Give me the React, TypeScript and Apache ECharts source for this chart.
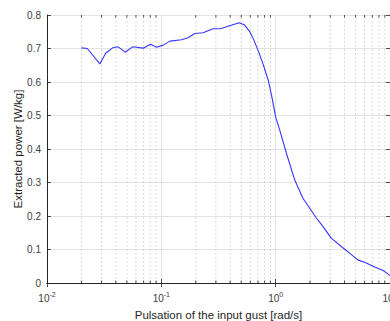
import React, { useEffect, useRef } from "react";
import * as echarts from "echarts";

// Pulsation of the input gust [rad/s]
const freq = [
  0.02, 0.0225, 0.029, 0.0326, 0.0375, 0.042, 0.0483, 0.056, 0.0694, 0.0805,
  0.0908, 0.104, 0.119, 0.15, 0.171, 0.196, 0.232, 0.283, 0.329, 0.396, 0.48,
  0.53, 0.59, 0.645, 0.71, 0.78, 0.86, 0.92, 1.0, 1.084, 1.24, 1.466, 1.73,
  1.98, 2.27, 2.59, 3.06, 3.75, 4.43, 5.23, 6.2, 7.33, 8.65, 9.77, 10,
];
// Extracted power [W/kg]
const power = [
  0.702, 0.7, 0.654, 0.686, 0.702, 0.705, 0.689, 0.705, 0.701, 0.713, 0.704,
  0.71, 0.722, 0.726, 0.732, 0.745, 0.747, 0.759, 0.759, 0.768, 0.777, 0.771,
  0.752, 0.725, 0.69, 0.651, 0.606, 0.561, 0.495, 0.457, 0.388, 0.308, 0.253,
  0.224, 0.194, 0.169, 0.134, 0.109, 0.089, 0.069, 0.06, 0.048, 0.038, 0.025,
  0.022,
];
const minorTicks = [
  0.02, 0.03, 0.04, 0.05, 0.06, 0.07, 0.08, 0.09,
  0.2, 0.3, 0.4, 0.5, 0.6, 0.7, 0.8, 0.9,
  2, 3, 4, 5, 6, 7, 8, 9,
];
const xMin = 0.01;
const xMax = 10;
const yMin = 0;
const yMax = 0.8;
const yStep = 0.1;

const AX = "#262626";
const FONT = "Liberation Sans, Arial, sans-serif";

export default function App() {
  const ref = useRef<HTMLDivElement>(null);
  useEffect(() => {
    if (!ref.current) return;
    const chart = echarts.init(ref.current, null, { renderer: "svg" });
    const xLabel = (v: number) => {
      const e = Math.round(Math.log10(v));
      return `{b|10}{e|${e}}`;
    };
    const baseX = {
      type: "log" as const,
      logBase: 10,
      min: xMin,
      max: xMax,
      axisLine: { show: true, lineStyle: { color: AX, width: 1 } },
      axisTick: { show: true, inside: true, length: 4, lineStyle: { color: AX, width: 0.8 } },
      minorTick: { show: false },
    };
    const baseY = {
      type: "value" as const,
      min: yMin,
      max: yMax,
      interval: yStep,
      axisLine: { show: true, lineStyle: { color: AX, width: 1 } },
      axisTick: { show: true, inside: true, length: 4, lineStyle: { color: AX, width: 0.8 } },
    };
    chart.setOption({
      animation: false,
      backgroundColor: "#ffffff",
      grid: {
        left: 47,
        right: 0,
        top: 15,
        bottom: 38,
        containLabel: false,
        outerBoundsMode: "none",
      },
      xAxis: [
        {
          ...baseX,
          position: "bottom",
          name: "Pulsation of the input gust [rad/s]",
          nameLocation: "middle",
          nameGap: 26,
          nameMoveOverlap: false,
          nameTextStyle: { color: AX, fontSize: 11.5, fontFamily: FONT },
          splitLine: { show: true, lineStyle: { color: "#e3e3e3", width: 1 } },
          axisLabel: {
            show: true,
            margin: 8,
            formatter: xLabel,
            rich: {
              b: { fontSize: 10, color: "#404040", fontFamily: FONT },
              e: { fontSize: 7, color: "#404040", fontFamily: FONT, padding: [0, 0, 7, 0] },
            },
          },
        },
        {
          ...baseX,
          position: "top",
          axisLabel: { show: false },
          splitLine: { show: false },
        },
      ],
      yAxis: [
        {
          ...baseY,
          position: "left",
          name: "Extracted power [W/kg]",
          nameLocation: "middle",
          nameGap: 23,
          nameMoveOverlap: false,
          nameTextStyle: { color: AX, fontSize: 11.5, fontFamily: FONT },
          splitLine: { show: true, lineStyle: { color: "#e3e3e3", width: 1 } },
          axisLabel: {
            show: true,
            margin: 6,
            color: "#404040",
            fontSize: 10,
            fontFamily: FONT,
            formatter: (v: number) => (v === 0 ? "0" : v.toFixed(1)),
          },
        },
        {
          ...baseY,
          position: "right",
          axisLabel: { show: false },
          splitLine: { show: false },
        },
      ],
      series: [
        {
          type: "custom",
          xAxisIndex: 0,
          yAxisIndex: 0,
          z: 1,
          silent: true,
          data: minorTicks.map((v) => [v, yMin]),
          encode: { x: 0, y: 1 },
          renderItem: (params: any, api: any) => {
            const v = api.value(0);
            const bot = api.coord([v, yMin]);
            const top = api.coord([v, yMax]);
            return {
              type: "group",
              children: [
                {
                  type: "line",
                  shape: { x1: bot[0], y1: bot[1], x2: top[0], y2: top[1] },
                  style: { stroke: "#cfcfcf", lineWidth: 0.8, lineDash: [2, 2] },
                },
                {
                  type: "line",
                  shape: { x1: bot[0], y1: bot[1], x2: bot[0], y2: bot[1] - 2.5 },
                  style: { stroke: AX, lineWidth: 0.8 },
                },
                {
                  type: "line",
                  shape: { x1: top[0], y1: top[1], x2: top[0], y2: top[1] + 2.5 },
                  style: { stroke: AX, lineWidth: 0.8 },
                },
              ],
            };
          },
        },
        {
          type: "line",
          xAxisIndex: 0,
          yAxisIndex: 0,
          z: 3,
          data: freq.map((f, i) => [f, power[i]]),
          showSymbol: false,
          symbol: "none",
          lineStyle: { color: "#3535ff", width: 1.1 },
        },
      ],
    });
    return () => chart.dispose();
  }, []);
  return (
    <div
      ref={ref}
      style={{ position: "fixed", left: 0, top: 0, width: 390, height: 321, background: "#fff" }}
    />
  );
}
